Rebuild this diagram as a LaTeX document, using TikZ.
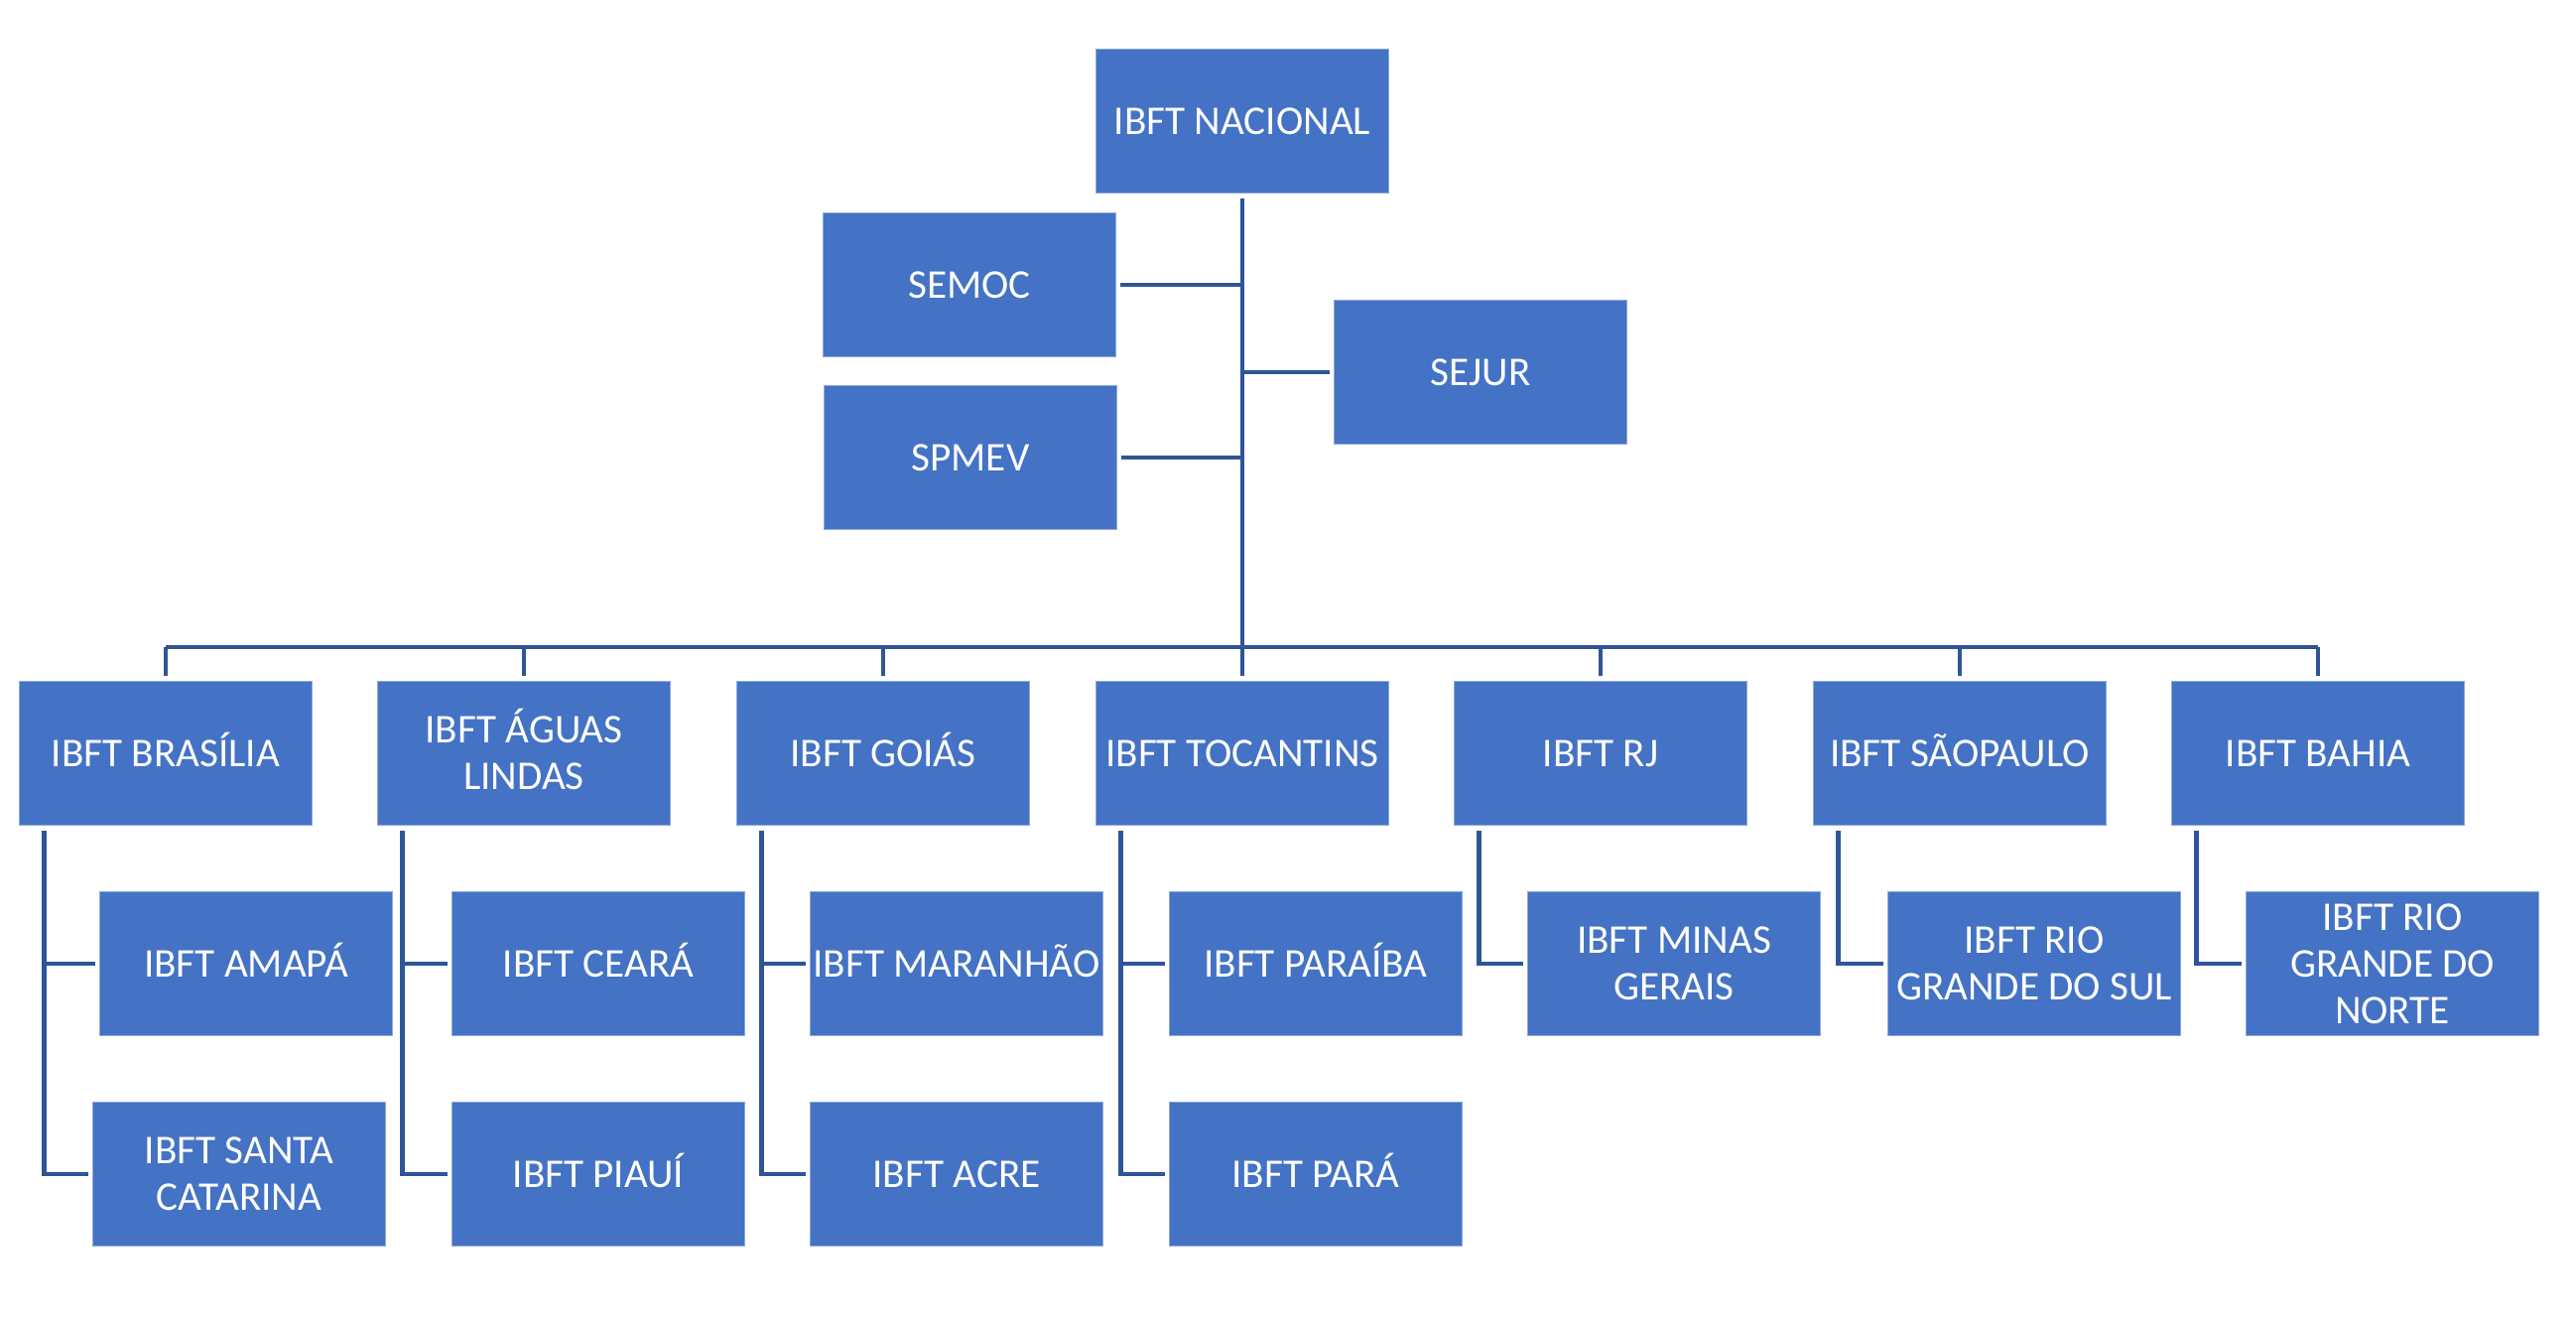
\documentclass[tikz,border=0pt]{standalone}
\usepackage{fontspec}
\setmainfont{Carlito}
\usetikzlibrary{calc}
\definecolor{boxblue}{RGB}{68,114,196}
\definecolor{lineblue}{RGB}{47,85,151}
\definecolor{rimblue}{RGB}{143,170,220}

\begin{document}
\begin{tikzpicture}[x=0.01cm,y=-0.01cm,
  unit/.style={draw=rimblue,line width=0.4pt,fill=boxblue,text=white,
    minimum width=2.95cm,minimum height=1.45cm,inner sep=0pt,align=center,
    text height=7.6pt,text depth=0pt,
    font=\fontsize{11.7}{13.4}\selectfont},
  multi/.style={text height={},text depth={}},
  link/.style={draw=lineblue,line width=1.3pt}]
\useasboundingbox (0,0) rectangle (2596,1328);

% top and staff
\node[unit] (nac) at (1252,122) {IBFT NACIONAL};
\node[unit] (semoc) at (977,287) {SEMOC};
\node[unit] (spmev) at (978,461) {SPMEV};
\node[unit] (sejur) at (1492,375) {SEJUR};

% regional units
\node[unit] (bra) at (167,759) {IBFT BRASÍLIA};
\node[unit,multi] (agu) at (528,759) {IBFT \smash{Á}GUAS\\LINDAS};
\node[unit] (goi) at (890,759) {IBFT GOIÁS};
\node[unit] (toc) at (1252,759) {IBFT TOCANTINS};
\node[unit] (rj) at (1613,759) {IBFT RJ};
\node[unit] (sp) at (1975,759) {IBFT SÃOPAULO};
\node[unit] (bah) at (2336,759) {IBFT BAHIA};

% sub units
\node[unit] (ama) at (248,971) {IBFT AMAPÁ};
\node[unit,multi] (cat) at (241,1183) {IBFT SANTA\\CATARINA};
\node[unit] (cea) at (603,971) {IBFT CEARÁ};
\node[unit] (pia) at (603,1183) {IBFT PIAUÍ};
\node[unit] (mar) at (964,971) {IBFT MARANHÃO};
\node[unit] (acr) at (964,1183) {IBFT ACRE};
\node[unit] (pba) at (1326,971) {IBFT PARAÍBA};
\node[unit] (par) at (1326,1183) {IBFT PARÁ};
\node[unit,multi] (min) at (1687,971) {IBFT MINAS\\GERAIS};
\node[unit,multi] (rsul) at (2050,971) {IBFT RIO\\GRANDE DO SUL};
\node[unit,multi] (rnor) at (2411,971) {IBFT RIO\\GRANDE DO\\NORTE};

% trunk and bus
\coordinate (bus) at (1252,652);
\draw[link] ($(nac.south)+(0,5)$) -- (bus);
\draw[link] ($(semoc.east)+(4,0)$) -- (semoc.east -| bus);
\draw[link] ($(spmev.east)+(4,0)$) -- (spmev.east -| bus);
\draw[link] ($(sejur.west)+(-4,0)$) -- (sejur.west -| bus);
\draw[link] (bra.north |- bus) -- (bah.north |- bus);
\foreach \n in {bra,agu,goi,toc,rj,sp,bah}
  \draw[link] (\n.north |- bus) -- ($(\n.north)+(0,-5)$);

% branches
\foreach \p/\a/\b in {bra/ama/cat,agu/cea/pia,goi/mar/acr,toc/pba/par}{
  \coordinate (\p X) at ($(\p.south west)+(26,5)$);
  \draw[link] (\p X) |- ($(\b.west)+(-4,0)$);
  \draw[link] (\p X |- \a.west) -- ($(\a.west)+(-4,0)$);
}
\foreach \p/\a in {rj/min,sp/rsul,bah/rnor}{
  \coordinate (\p X) at ($(\p.south west)+(26,5)$);
  \draw[link] (\p X) |- ($(\a.west)+(-4,0)$);
}
\end{tikzpicture}
\end{document}
